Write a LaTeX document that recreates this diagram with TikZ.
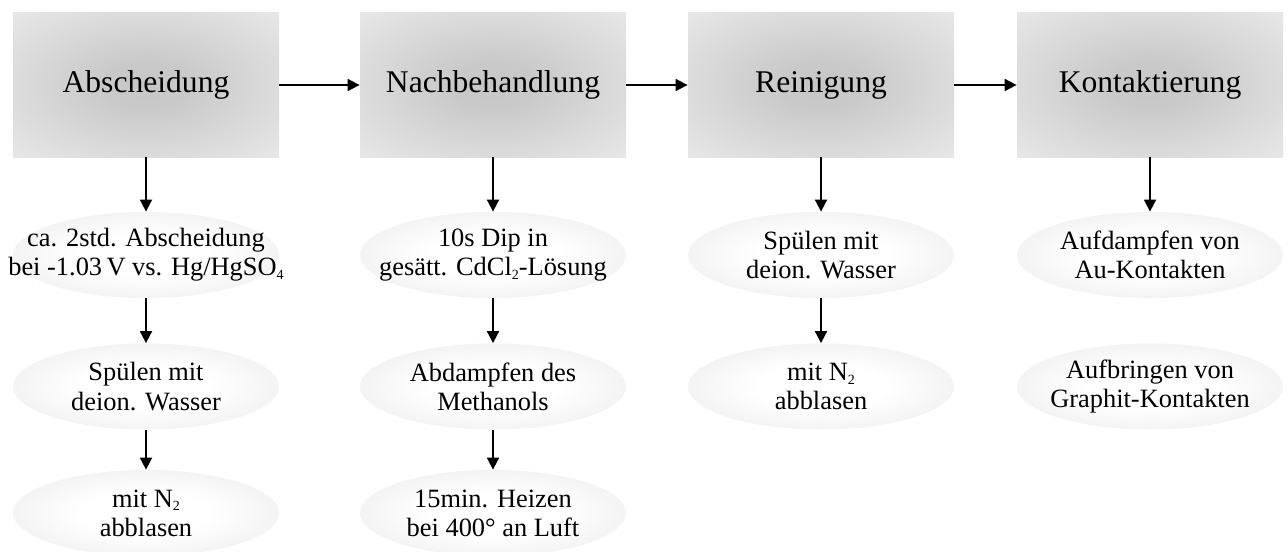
\documentclass[tikz,border=0pt]{standalone}
\usepackage{fontspec}
\setmainfont{Liberation Serif}
\usetikzlibrary{arrows.meta,shapes.geometric}
\pgfdeclareradialshading{boxshade}{\pgfpoint{0bp}{0bp}}{color(0bp)=(gray!44); color(8bp)=(gray!42); color(50bp)=(gray!6); color(72bp)=(gray!5)}
\pgfdeclareradialshading{ellshade}{\pgfpoint{0bp}{0bp}}{color(0bp)=(white); color(12bp)=(white); color(50bp)=(gray!26); color(72bp)=(gray!26)}
\newcommand{\lsub}[1]{\raisebox{-0.3ex}{\fontsize{7}{7}\selectfont #1}}
\tikzset{
  stepbox/.style={rectangle, minimum width=133pt, minimum height=72pt, inner sep=0pt,
    shading=boxshade, font=\fontsize{15.8}{19}\selectfont},
  elli/.style={ellipse, minimum width=133pt, minimum height=43pt, inner sep=0pt,
    shading=ellshade},
  etext/.style={align=center, inner sep=0pt, font=\fontsize{13.2}{14.6}\selectfont},
  arr/.style={line width=0.9pt, -{Triangle[length=6pt,width=6pt]}}
}
\begin{document}
\begin{tikzpicture}[x=0.5pt,y=-0.5pt]
\clip (0,0) rectangle (1288,551);
\fill[white] (0,0) rectangle (1288,551);
% main steps
\node[stepbox] (b1) at (146,85) {Abscheidung};
\node[stepbox] (b2) at (493,85) {Nachbehandlung};
\node[stepbox] (b3) at (821,85) {Reinigung};
\node[stepbox] (b4) at (1150,85) {Kontaktierung};
% column 1
\node[elli, label={[etext]center:ca. 2std. Abscheidung\\bei -1.03\,V vs. Hg/HgSO\lsub{4}}] (a1) at (146,255) {};
\node[elli, label={[etext]center:Spülen mit\\deion. Wasser}] (a2) at (146,386.5) {};
\node[elli, label={[etext]center:mit N\lsub{2}\\abblasen}] (a3) at (146,513) {};
% column 2
\node[elli, label={[etext]center:10s Dip in\\gesätt. CdCl\lsub{2}-Lösung}] (n1) at (493,255) {};
\node[elli, label={[etext]center:Abdampfen des\\Methanols}] (n2) at (493,386.5) {};
\node[elli, label={[etext]center:15min. Heizen\\bei 400° an Luft}] (n3) at (493,513) {};
% column 3
\node[elli, label={[etext]center:Spülen mit\\deion. Wasser}] (r1) at (821,255) {};
\node[elli, label={[etext]center:mit N\lsub{2}\\abblasen}] (r2) at (821,386.5) {};
% column 4
\node[elli, label={[etext]center:Aufdampfen von\\Au-Kontakten}] (k1) at (1150,255) {};
\node[elli, label={[etext]center:Aufbringen von\\Graphit-Kontakten}] (k2) at (1150,386.5) {};
% connectors
\draw[arr] (b1) -- (b2);
\draw[arr] (b2) -- (b3);
\draw[arr] (b3) -- (b4);
\draw[arr] (b1) -- (a1);
\draw[arr] (a1) -- (a2);
\draw[arr] (a2) -- (a3);
\draw[arr] (b2) -- (n1);
\draw[arr] (n1) -- (n2);
\draw[arr] (n2) -- (n3);
\draw[arr] (b3) -- (r1);
\draw[arr] (r1) -- (r2);
\draw[arr] (b4) -- (k1);
\end{tikzpicture}
\end{document}
